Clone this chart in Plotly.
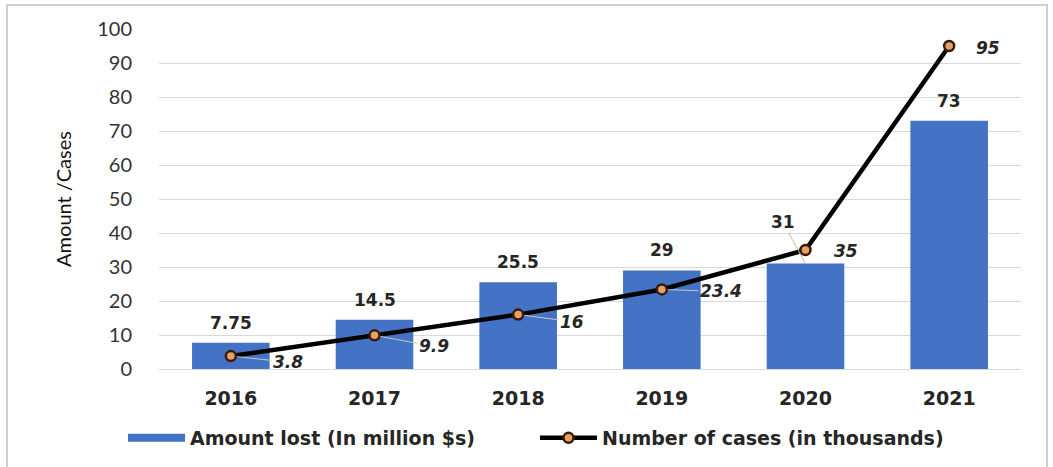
import plotly.graph_objects as go

# Yearly fraud figures
years = ["2016", "2017", "2018", "2019", "2020", "2021"]
amount_lost = [7.75, 14.5, 25.5, 29, 31, 73]          # million $
cases = [3.8, 9.9, 16, 23.4, 35, 95]                   # thousands
y_ticks = [0, 10, 20, 30, 40, 50, 60, 70, 80, 90, 100]

BLUE = "#4472C4"
TEXT = "#262626"
W, H = 1053, 467
L, R, T, B = 159, 32, 29, 98
pw = W - L - R
ph = H - T - B

xpos = list(range(len(years)))
LABEL_FONT = dict(family="DejaVu Sans", size=17, color=TEXT)

fig = go.Figure()
fig.add_trace(go.Bar(
    x=xpos, y=amount_lost, name="Amount lost (In million $s)",
    marker=dict(color=BLUE, line=dict(width=0)), width=0.54,
    showlegend=False, legendgroup="amount",
))
# wide swatch for the bar series in the legend
fig.add_trace(go.Scatter(
    x=[None], y=[None], mode="lines", name="<b>Amount lost (In million $s)</b>",
    line=dict(color=BLUE, width=8), legendgroup="amount", legend="legend",
))
fig.add_trace(go.Scatter(
    x=xpos, y=cases, name="<b>Number of cases (in thousands)</b>",
    mode="lines+markers",
    line=dict(color="black", width=4.5),
    marker=dict(size=10, color="#E9A066", line=dict(color="#3a1a0a", width=2.5)),
    legend="legend2",
))

# Bar value labels above each bar; the 2020 one sits up-left with a leader
for i, (yr, v) in enumerate(zip(years, amount_lost)):
    if yr == "2020":
        fig.add_annotation(
            x=i, y=v, xref="x", yref="y", text=f"<b>{v:g}</b>",
            showarrow=True, arrowhead=0, arrowwidth=1, arrowcolor="#d8b49a",
            ax=-23, ay=-42, standoff=0, font=LABEL_FONT,
        )
    else:
        fig.add_annotation(
            x=i, y=v, xref="x", yref="y", text=f"<b>{v:g}</b>", showarrow=False,
            yanchor="middle", yshift=20, font=LABEL_FONT,
        )

# Line value labels to the right of each point, some with thin leader lines
line_off = {"2016": (57, 6, True), "2017": (59, 11, True), "2018": (54, 7, True),
            "2019": (59, 2, True), "2020": (40, 1, False), "2021": (39, 2, False)}
for i, (yr, v) in enumerate(zip(years, cases)):
    dx, dy, leader = line_off[yr]
    fig.add_annotation(
        x=i, y=v, xref="x", yref="y", text=f"<b><i>{v:g}</i></b>",
        showarrow=True, arrowhead=0, arrowwidth=1,
        arrowcolor="#c8c8c8" if leader else "rgba(0,0,0,0)",
        ax=dx, ay=dy, standoff=6, startstandoff=0, font=LABEL_FONT,
    )

fig.add_shape(
    type="rect", xref="paper", yref="paper",
    x0=(7 - L) / pw, x1=(1047 - L) / pw,
    y0=(ph + T - 470) / ph, y1=(ph + T - 5) / ph,
    line=dict(color="#d0d0d0", width=2), fillcolor="rgba(0,0,0,0)", layer="below",
)

legend_common = dict(
    orientation="h", xanchor="left", y=(ph + T - 438) / ph, yanchor="middle",
    font=dict(family="DejaVu Sans", size=19, color=TEXT),
    itemwidth=57, bgcolor="rgba(0,0,0,0)",
)

fig.update_layout(
    width=W, height=H,
    margin=dict(l=L, r=R, t=T, b=B, autoexpand=False),
    paper_bgcolor="white", plot_bgcolor="white",
    font=dict(family="Lato", color=TEXT),
    showlegend=True,
    legend=dict(x=(123 - L) / pw, **legend_common),
    legend2=dict(x=(535 - L) / pw, **legend_common),
    xaxis=dict(
        range=[-0.5, len(years) - 0.5], tickvals=xpos,
        ticktext=[f"<b>{y}</b>" for y in years],
        showgrid=False, showline=True, linecolor="#d9d9d9", linewidth=1,
        zeroline=False, ticks="", ticklabelstandoff=12,
        tickfont=dict(family="DejaVu Sans", size=19, color=TEXT),
    ),
    yaxis=dict(
        range=[0, 100], tickvals=y_ticks, showgrid=True, gridcolor="#d9d9d9",
        gridwidth=1, zeroline=False, ticks="", showline=False,
        tickfont=dict(family="Lato", size=20, color="#333333"),
        ticklabelstandoff=26,
        title=dict(text="Amount /Cases", standoff=20,
                   font=dict(family="Lato", size=20, color="#111111")),
    ),
)

fig.write_html("out.html")
